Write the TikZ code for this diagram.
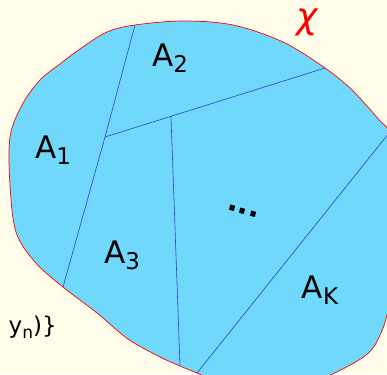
\documentclass[tikz,border=0pt]{standalone}
\usepackage{fontspec}
\setmainfont{DejaVu Sans}
\definecolor{paper}{RGB}{255,253,234}
\definecolor{sky}{RGB}{112,216,250}
\definecolor{cut}{RGB}{52,60,210}
\newcommand{\reg}[1]{A\raisebox{-6pt}{\fontsize{23}{24}\selectfont #1}}

\begin{document}
\begin{tikzpicture}[x=1pt, y=-1pt, line width=0.6pt,
    lbl/.style={font=\fontsize{31}{33}\selectfont, inner sep=0pt}]
  \useasboundingbox (0,0) rectangle (387,374);
  \clip (0,0) rectangle (387,374);
  \fill[paper] (0,0) rectangle (387,374);
  % the set X
  \coordinate (t1) at (135,25);
  \coordinate (t2) at (325,68);
  \coordinate (b1) at (63,287);
  \coordinate (b2) at (180,366);
  \coordinate (r1) at (389,133);
  \coordinate (b3) at (197,373);
  \filldraw[fill=sky, draw=red, line width=0.7pt]
    plot[smooth cycle, tension=0.55] coordinates
    {(t1) (183,21) (233,25) (283,42) (t2) (350,88) (367,106) (380,121) (r1)
     (395,180) (396,250) (390,300) (381,333) (362,358) (300,386) (230,386)
     (b3) (b2) (160,357) (128,339) (97,313) (b1) (35,262) (16,232)
     (10,185) (10,137) (22,105) (40,80) (60,64) (80,49) (107,32)};
  % the cuts
  \coordinate (m1) at (105,137);
  \coordinate (m2) at (171,117);
  \draw[cut] (t1) -- (m1) -- (b1);
  \draw[cut] (m1) -- (t2);
  \draw[cut] (m2) -- (b2);
  \draw[cut] (r1) -- (b3);
  \node[lbl] (a1) at (53,150) {\reg{1}};
  \node[lbl] (a2) at (170,58) {\reg{2}};
  \node[lbl] (a3) at (122,255) {\reg{3}};
  \node[lbl] (ak) at (320,290) {\reg{K}};
  \node[lbl, font=\fontsize{29}{31}\selectfont\bfseries, rotate=-15] (dots) at (243,211) {...};
  \node[text=red, inner sep=0pt, font=\fontsize{36}{38}\selectfont\itshape] (chi) at (307,22) {χ};
  \node[anchor=east, inner sep=0pt, font=\fontsize{23}{25}\selectfont] (xs) at (57,327) {, y\raisebox{-5pt}{\fontsize{17}{18}\selectfont n})\}};
\end{tikzpicture}
\end{document}
